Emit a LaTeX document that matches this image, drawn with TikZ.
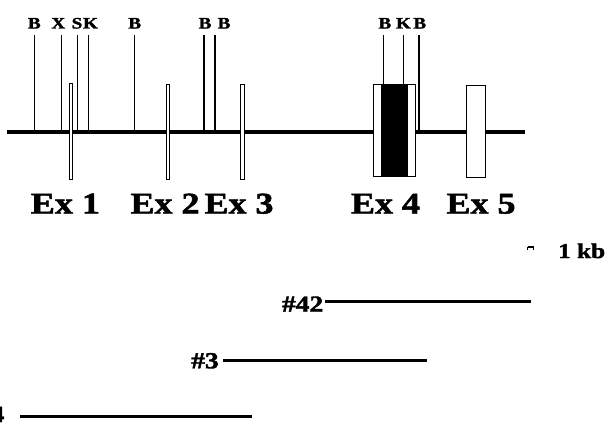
\documentclass[tikz,border=0pt]{standalone}
\usepackage{fontspec}
\setmainfont{Liberation Serif}[BoldFeatures={FakeBold=1.6}]
\newcommand{\wide}[1]{\scalebox{1.2}[1]{#1}}
\begin{document}
\begin{tikzpicture}[x=1pt,y=-1pt,
  site/.style={line width=1.1pt},
  sitelab/.style={font=\fontsize{16}{16}\selectfont\bfseries, inner sep=0, anchor=base},
  exlab/.style={font=\fontsize{30}{30}\selectfont\bfseries, inner sep=0, anchor=base},
  exon/.style={draw, line width=0.9pt, fill=white, inner sep=0},
  coding/.style={fill=black, inner sep=0},
  gene/.style={line width=4pt},
  clone/.style={line width=2.6pt},
  clonelab/.style={font=\fontsize{23}{23}\selectfont\bfseries, inner sep=0, anchor=base east}]
\useasboundingbox (0,0) rectangle (607,425);
\clip (0,0) rectangle (607,425);

% genomic backbone
\coordinate (gs) at (7,132.3);
\coordinate (ge) at (525,132.3);
\draw[gene] (gs) -- (ge);

% restriction sites (label x, line x)
\foreach \n/\lx/\x/\l in {b1/34.3/34.3/B, x/58.3/61.7/X, s/77/77.3/S, k/90.5/88.7/K,
                          b2/134.7/134.7/B, b3/205/204/B, b4/224/215/B, b6/419.7/419/B}{
  \node[sitelab] (l\n) at (\lx,28.5) {\wide{\l}};
  \coordinate (t\n) at (\x,35);
  \coordinate (f\n) at (\x,131);
  \draw[site] (t\n) -- (f\n);
}
\foreach \n/\lx/\x/\l in {b5/384.8/383.3/B, k2/403.5/403.3/K}{
  \node[sitelab] (l\n) at (\lx,28.5) {\wide{\l}};
  \coordinate (t\n) at (\x,35);
  \coordinate (f\n) at (\x,85);
  \draw[site] (t\n) -- (f\n);
}

% exons
\node[exon, minimum width=3.4pt, minimum height=96pt] (e1) at (71,131.3) {};
\node[exon, minimum width=3.3pt, minimum height=95pt] (e2) at (167.7,131.5) {};
\node[exon, minimum width=3.6pt, minimum height=95pt] (e3) at (242.5,131.5) {};
\node[exon, minimum width=41.7pt, minimum height=92pt] (e4) at (394.2,130) {};
\node[coding, minimum width=27.3pt, minimum height=92pt] (e4c) at (394.7,130) {};
\node[exon, minimum width=19.7pt, minimum height=91.6pt] (e5) at (475.9,131.5) {};

% exon names
\node[exlab] (x1) at (65.4,213.5) {\wide{Ex 1}};
\node[exlab] (x2) at (165,213.5) {\wide{Ex 2}};
\node[exlab] (x3) at (239,213.5) {\wide{Ex 3}};
\node[exlab] (x4) at (385.5,213.5) {\wide{Ex 4}};
\node[exlab] (x5) at (481,213.5) {\wide{Ex 5}};

% scale bar
\coordinate (sb1) at (527.5,246.8);
\coordinate (sb2) at (533.5,246.8);
\draw[line width=2.6pt] (sb1) -- (sb2);
\draw[line width=1.2pt] (sb1) -- ++(0,3.2) (sb2) -- ++(0,3.2);
\node[font=\fontsize{21}{21}\selectfont\bfseries, inner sep=0, anchor=base west] (kb) at (558,258) {\wide{1 kb}};

% genomic clones
\node[clonelab] (c42) at (323.5,311.7) {\wide{\#42}};
\coordinate (c42s) at (325,301.7);
\coordinate (c42e) at (530.7,301.7);
\draw[clone] (c42s) -- (c42e);

\node[clonelab] (c3) at (219,368.3) {\wide{\#3}};
\coordinate (c3s) at (223.3,360.7);
\coordinate (c3e) at (426.7,360.7);
\draw[clone] (c3s) -- (c3e);

\node[clonelab] (c4) at (4.5,422) {\wide{\#4}};
\coordinate (c4s) at (20,416.7);
\coordinate (c4e) at (251.7,416.7);
\draw[clone] (c4s) -- (c4e);
\end{tikzpicture}
\end{document}
